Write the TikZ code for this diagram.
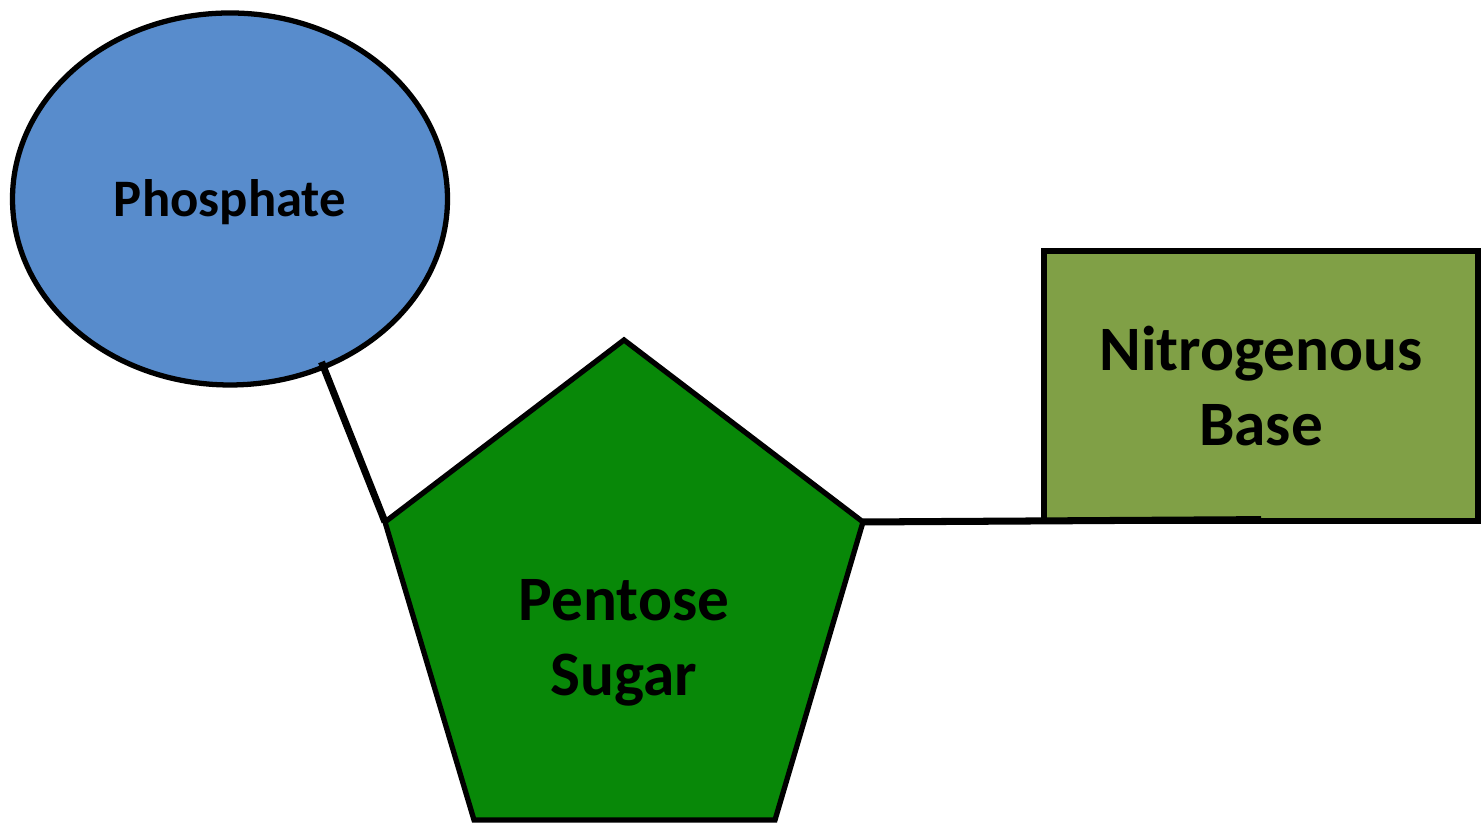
\documentclass[tikz,border=0pt]{standalone}
\usepackage{fontspec}
\setmainfont{Carlito}
\usepackage{tikz}
\usetikzlibrary{shapes.geometric,calc}

\definecolor{phosblue}{RGB}{88,140,204}
\definecolor{sugargreen}{RGB}{8,136,8}
\definecolor{baseolive}{RGB}{128,160,70}

\begin{document}
\begin{tikzpicture}[
    outline/.style={draw=black, line width=1.5pt},
    label/.style={font=\bfseries\fontsize{18}{21.3}\selectfont, align=center},
    bond/.style={black, line width=2pt}
  ]
    %% Background
    \useasboundingbox (0,0) rectangle (14.81,8.24);

    %% Phosphate
    \node[outline, ellipse, fill=phosblue, minimum width=4.35cm, minimum height=3.72cm,
          font=\bfseries\fontsize{15}{18}\selectfont] (phos) at (2.30,6.25)
          {\raisebox{-0.33em}[0pt][0pt]{Phosphate}};

    %% Pentose sugar
    \coordinate (top) at (6.24,4.84);
    \coordinate (ul) at (3.85,3.02);
    \coordinate (ur) at (8.63,3.02);
    \coordinate (ll) at (4.74,0.04);
    \coordinate (lr) at (7.75,0.04);
    \draw[outline, fill=sugargreen] (top) -- (ur) -- (lr) -- (ll) -- (ul) -- cycle;
    \node[label] (sugar) at (6.24,1.81) {Pentose\\Sugar};

    %% Nitrogenous base
    \node[outline, rectangle, fill=baseolive, minimum width=4.34cm, minimum height=2.70cm,
          label] (base) at (12.61,4.38) {Nitrogenous\\Base};

    %% Bonds
    \draw[bond, shorten <=-0.08cm] (phos.-61) -- (ul);
    \draw[bond] (ur) -- ([yshift=0.04cm]base.south);
\end{tikzpicture}
\end{document}
